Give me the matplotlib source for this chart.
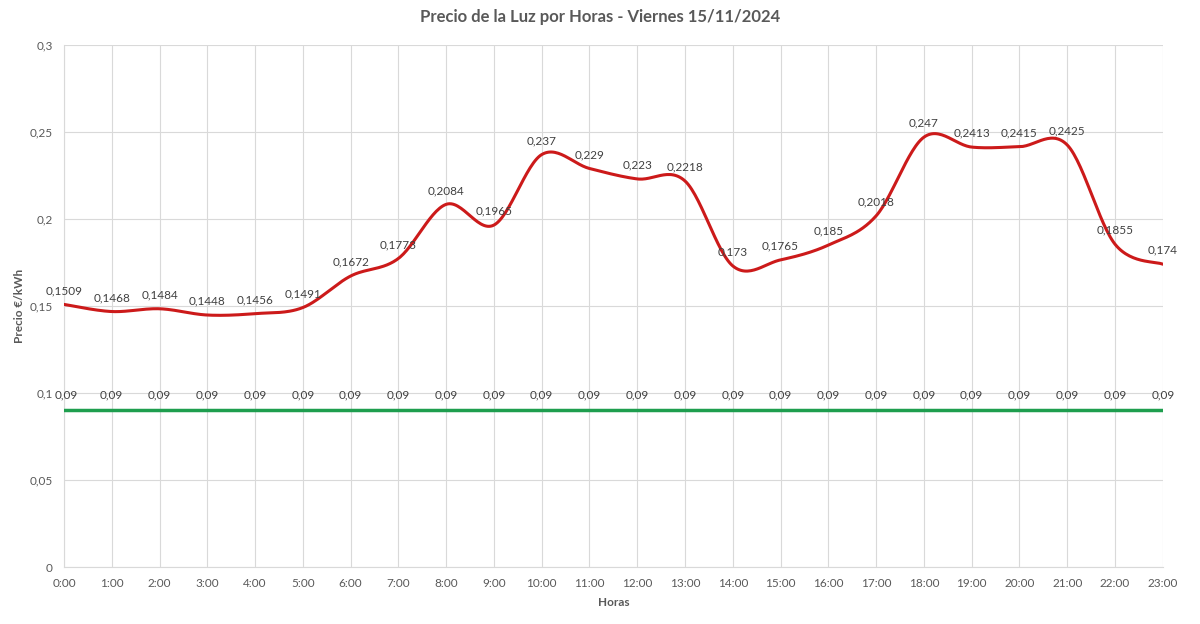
import numpy as np
import matplotlib
matplotlib.use("Agg")
import matplotlib.pyplot as plt

plt.rcParams["font.family"] = ["Lato", "DejaVu Sans"]

hours = [f"{h}:00" for h in range(24)]
precio = [0.1509, 0.1468, 0.1484, 0.1448, 0.1456, 0.1491, 0.1672, 0.1773,
          0.2084, 0.1965, 0.237, 0.229, 0.223, 0.2218, 0.173, 0.1765,
          0.185, 0.2018, 0.247, 0.2413, 0.2415, 0.2425, 0.1855, 0.174]
referencia = [0.09] * 24
yticks = [0, 0.05, 0.1, 0.15, 0.2, 0.25, 0.3]
ytick_labels = ["0", "0,05", "0,1", "0,15", "0,2", "0,25", "0,3"]


def smooth(xs, ys, n=30):
    xs = np.asarray(xs, float); ys = np.asarray(ys, float)
    px = np.concatenate([[xs[0]], xs, [xs[-1]]])
    py = np.concatenate([[ys[0]], ys, [ys[-1]]])
    outx, outy = [], []
    t = np.linspace(0, 1, n)
    for i in range(1, len(px) - 2):
        p0 = np.array([px[i], py[i]]); p3 = np.array([px[i + 1], py[i + 1]])
        c1 = p0 + (np.array([px[i + 1], py[i + 1]]) - np.array([px[i - 1], py[i - 1]])) / 6
        c2 = p3 - (np.array([px[i + 2], py[i + 2]]) - np.array([px[i], py[i]])) / 6
        b = ((1 - t) ** 3)[:, None] * p0 + (3 * (1 - t) ** 2 * t)[:, None] * c1 + \
            (3 * (1 - t) * t ** 2)[:, None] * c2 + (t ** 3)[:, None] * p3
        outx.extend(b[:, 0]); outy.extend(b[:, 1])
    return outx, outy


fig = plt.figure(figsize=(12, 6.24), dpi=100)
ax = fig.add_axes([0.0533, 0.0913, 0.9157, 0.8367])
x = np.arange(len(hours))

sx, sy = smooth(x, precio)
ax.plot(sx, sy, color="#cc1a1a", lw=2.2, solid_capstyle="round", zorder=3)
ax.plot(x, referencia, color="#1e9e4e", lw=2.5, zorder=3)

lab_col = "#404040"
for xi, v in zip(x, precio):
    ax.annotate(f"{v:g}".replace(".", ","), (xi, v), xytext=(0, 10), textcoords="offset points",
                ha="center", va="center", fontsize=8.5, color=lab_col, zorder=4)
for xi, v in zip(x, referencia):
    dx = 2 if xi == 0 else 0
    ax.annotate(f"{v:g}".replace(".", ","), (xi, v), xytext=(dx, 11), textcoords="offset points",
                ha="center", va="center", fontsize=8.5, color=lab_col, zorder=4)

ax.set_xlim(0, 23)
ax.set_ylim(0, 0.3)
ax.set_xticks(x)
ax.set_xticklabels(hours)
ax.set_yticks(yticks)
ax.set_yticklabels(ytick_labels)
ax.grid(True, color="#d9d9d9", lw=0.8)
ax.set_axisbelow(True)
for s in ["top", "right"]:
    ax.spines[s].set_visible(False)
for s in ["left", "bottom"]:
    ax.spines[s].set_color("#d9d9d9")
    ax.spines[s].set_linewidth(0.8)
ax.tick_params(axis="y", length=0, labelsize=8.5, colors="#595959", pad=8)
ax.tick_params(axis="x", length=0, labelsize=8.5, colors="#595959", pad=8)

ax.set_xlabel("Horas", fontsize=8.5, fontweight="bold", color="#595959", labelpad=6)
ax.set_ylabel("Precio €/kWh", fontsize=8.5, fontweight="bold", color="#595959", labelpad=3)
fig.suptitle("Precio de la Luz por Horas - Viernes 15/11/2024", y=0.985, fontsize=12,
             fontweight="bold", color="#595959")

fig.savefig("out.png", dpi=100, facecolor="white")
